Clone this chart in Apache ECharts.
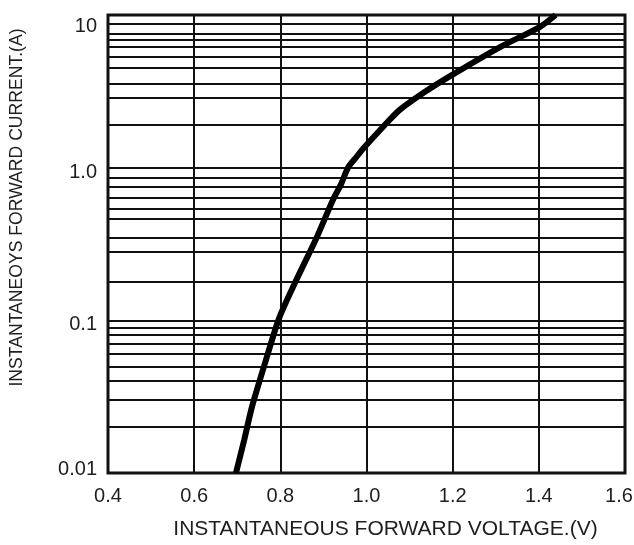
<!DOCTYPE html>
<html>
<head>
<meta charset="utf-8">
<script src="https://cdn.jsdelivr.net/npm/echarts@6/dist/echarts.min.js"></script>
<style>html,body{margin:0;padding:0;background:#fff;}#c{width:634px;height:545px;}</style>
</head>
<body>
<div id="c"></div>
<script>
// Forward voltage (V) vs instantaneous forward current (A)
const voltage = [0.697, 0.716, 0.734, 0.764, 0.797, 0.834, 0.885, 0.922, 0.941, 0.957, 0.975, 0.994, 1.036, 1.077, 1.135, 1.194, 1.31, 1.402, 1.439];
const current = [0.01, 0.0164, 0.027, 0.052, 0.103, 0.176, 0.352, 0.614, 0.78, 1.0, 1.16, 1.35, 1.82, 2.39, 3.13, 3.98, 6.17, 8.34, 10];
// horizontal minor grid lines as drawn on the original sheet
const minorGrid = [
  0.018, 0.0276, 0.0346, 0.0435, 0.053, 0.063, 0.073, 0.0796, 0.087,
  0.182, 0.279, 0.354, 0.46, 0.542, 0.638, 0.747, 0.86,
  1.9, 2.89, 3.55, 4.5, 5.35, 6.2, 6.84, 7.55, 8.75
];
const xTitle = 'INSTANTANEOUS FORWARD VOLTAGE.(V)';
const yTitle = 'INSTANTANEOYS FORWARD CURRENT.(A)';

const chart = echarts.init(document.getElementById('c'), null, {renderer: 'canvas'});
const pts = voltage.map((v, i) => [v, current[i]]);
const ink = '#111';
const textCol = '#1e1e1e';
const fontFam = '"Liberation Sans", Arial, sans-serif';

chart.setOption({
  animation: false,
  backgroundColor: '#fff',
  grid: {left: 108, right: 9, top: 15, bottom: 72, show: true, borderColor: ink, borderWidth: 3,
    containLabel: false, outerBoundsMode: 'none'},
  xAxis: {
    type: 'value', min: 0.4, max: 1.6, interval: 0.2,
    name: xTitle, nameLocation: 'middle', nameGap: 46,
    nameTextStyle: {fontFamily: fontFam, fontSize: 21, color: textCol, padding: [0, 0, 0, 38]},
    axisLine: {show: false}, axisTick: {show: false},
    axisLabel: {fontFamily: fontFam, fontSize: 20, color: textCol, margin: 13,
      formatter: v => Math.abs(v - 1.6) < 1e-6 ? '{e|1.6}' : v.toFixed(1),
      rich: {e: {fontFamily: fontFam, fontSize: 20, color: textCol, padding: [0, 12, 0, 0]}}
    },
    splitLine: {show: true, lineStyle: {color: ink, width: 2}}
  },
  yAxis: {
    type: 'log', logBase: 10, min: 0.01, max: 10,
    name: yTitle, nameLocation: 'middle', nameGap: 82,
    nameTextStyle: {fontFamily: fontFam, fontSize: 17.6, color: textCol, padding: [0, 0, 0, 73]},
    axisLine: {show: false}, axisTick: {show: false},
    axisLabel: {fontFamily: fontFam, fontSize: 20, color: textCol, margin: 11,
      formatter: v => {
        const e = Math.round(Math.log10(v));
        if (e === 1) return '{a|10}';
        if (e === 0) return '{b|1.0}';
        if (e === -1) return '{c|0.1}';
        return '{d|0.01}';
      },
      rich: {
        a: {fontFamily: fontFam, fontSize: 20, color: textCol, padding: [22, 0, 0, 0]},
        b: {fontFamily: fontFam, fontSize: 20, color: textCol, padding: [10, 0, 0, 0]},
        c: {fontFamily: fontFam, fontSize: 20, color: textCol, padding: [8, 0, 0, 0]},
        d: {fontFamily: fontFam, fontSize: 20, color: textCol, padding: [0, 0, 8, 0]}
      }
    },
    splitLine: {show: true, lineStyle: {color: ink, width: 2}}
  },
  series: [
    {
      type: 'line', name: 'grid', data: pts, z: 1, silent: true,
      showSymbol: false, lineStyle: {opacity: 0},
      markLine: {
        silent: true, symbol: ['none', 'none'], label: {show: false},
        lineStyle: {type: 'solid', color: ink, width: 2},
        emphasis: {disabled: true},
        data: minorGrid.map(v => ({yAxis: v}))
      }
    },
    {
      type: 'line', name: 'IF', data: pts, z: 5,
      showSymbol: false, smooth: 0.25,
      lineStyle: {color: '#000', width: 6}
    }
  ]
});
</script>
</body>
</html>
